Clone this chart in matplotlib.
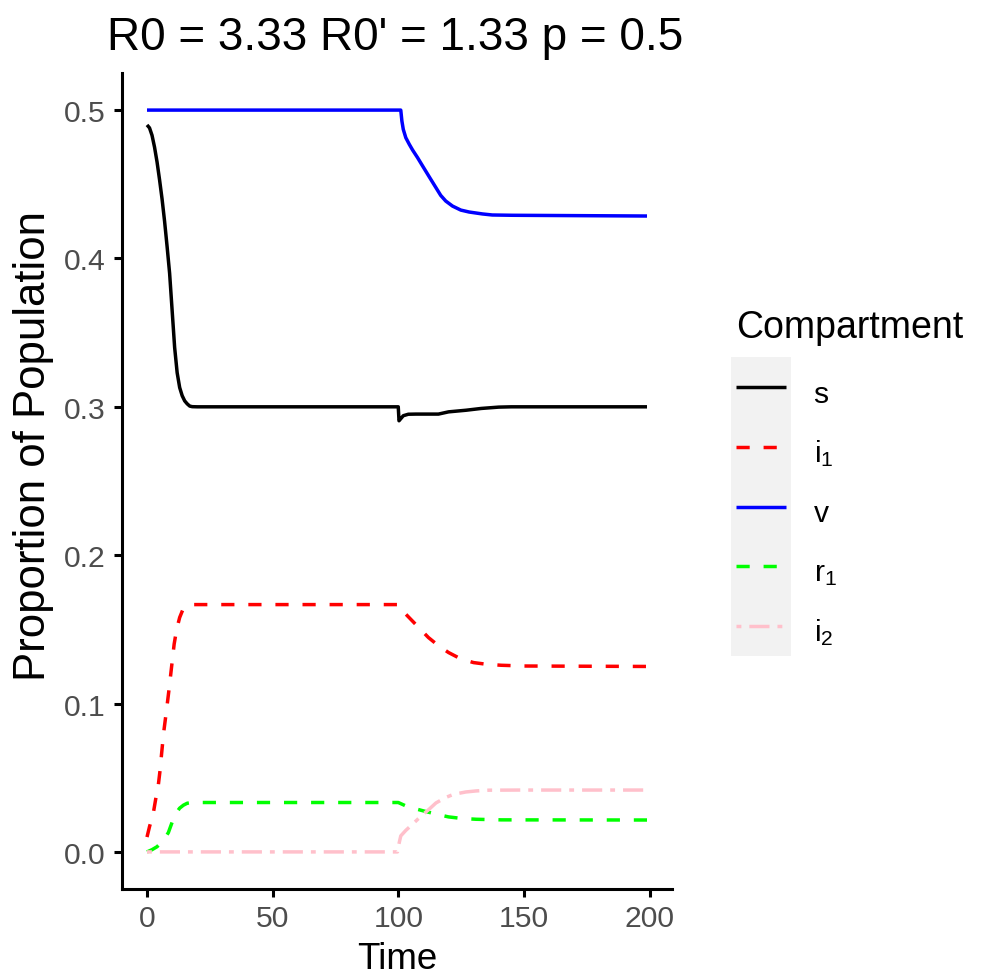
import matplotlib
matplotlib.use("Agg")
import matplotlib.pyplot as plt
from matplotlib.patches import Rectangle

plt.rcParams['font.family'] = ['Liberation Sans', 'DejaVu Sans']
plt.rcParams['mathtext.fontset'] = 'custom'
plt.rcParams['mathtext.rm'] = 'Liberation Sans'

# values
s_t = [0, 1, 2, 3, 4, 5, 6, 7, 8, 9, 10, 11, 12, 13, 14, 15, 16, 17, 18, 20,
       100, 100.3, 101, 102, 104, 107, 116, 120, 127, 133, 140, 145, 199]
s_v = [0.490, 0.488, 0.483, 0.475, 0.465, 0.453, 0.440, 0.425, 0.408, 0.390,
       0.365, 0.340, 0.323, 0.313, 0.3075, 0.304, 0.302, 0.3005, 0.3001,
       0.300, 0.300, 0.2906, 0.292, 0.294, 0.295, 0.2951, 0.2951, 0.2966,
       0.2977, 0.2989, 0.2998, 0.300, 0.300]

i1_t = [0, 1, 2.5, 3.5, 4.5, 5.2, 5.8, 6.6, 7.8, 8.8, 9.8, 10.8, 11.8, 13,
        14.2, 16, 18, 20, 100, 102.4, 106, 112, 116, 120, 125, 130, 135,
        141, 150, 199]
i1_v = [0.010, 0.017, 0.026, 0.036, 0.045, 0.055, 0.066, 0.080, 0.096,
        0.110, 0.125, 0.140, 0.150, 0.158, 0.163, 0.166, 0.1667, 0.1667,
        0.1667, 0.1613, 0.155, 0.1445, 0.139, 0.1344, 0.130, 0.1276, 0.1265,
        0.1258, 0.1253, 0.125]

v_t = [0, 101.0, 101.45, 102.0, 103.0, 104.4, 105.7, 107.7, 109.7, 112.3,
       115.0, 116.9, 118.9, 121.6, 124.9, 128.2, 133.5, 137.4, 145.4, 199]
v_v = [0.5, 0.5, 0.4926, 0.487, 0.4814, 0.4769, 0.4731, 0.4679, 0.4623,
       0.4551, 0.4477, 0.4425, 0.4387, 0.4353, 0.4326, 0.4313, 0.4300,
       0.4293, 0.4291, 0.4286]

r1_t = [0, 2, 4, 5.5, 7, 8.5, 10, 11.5, 13, 14.5, 16, 18, 20, 100, 103,
        107, 111, 115, 120, 125, 131, 141, 199]
r1_v = [0.0, 0.0015, 0.0035, 0.006, 0.009, 0.013, 0.020, 0.026, 0.0295,
        0.0315, 0.0328, 0.0333, 0.0333, 0.0333, 0.031, 0.029, 0.0272,
        0.0255, 0.0236, 0.0226, 0.022, 0.0216, 0.0215]

i2_t = [0, 99.7, 100, 100.4, 101, 103, 105.7, 109, 112.3, 115, 118.9, 122,
        126.9, 131, 136, 149, 199]
i2_v = [0.0, 0.0, 0.003, 0.0063, 0.0108, 0.0145, 0.0187, 0.024, 0.0288,
        0.033, 0.0367, 0.0388, 0.0404, 0.0411, 0.0416, 0.0417, 0.0417]

labels = ['s', r'$\mathregular{i_1}$', 'v', r'$\mathregular{r_1}$',
          r'$\mathregular{i_2}$']
colors = ['black', 'red', 'blue', '#00FF00', 'pink']
dashes = [None, (3.8, 4.0), None, (3.8, 4.0), (1.4, 2.3, 5.8, 2.3)]

fig = plt.figure(figsize=(9.84, 9.78), dpi=100)
ax = fig.add_axes([122 / 984, 1 - 890 / 978, 550 / 984, 816 / 978])

series = [(s_t, s_v), (i1_t, i1_v), (v_t, v_v), (r1_t, r1_v), (i2_t, i2_v)]
for (t, y), lab, c, d in zip(series, labels, colors, dashes):
    line, = ax.plot(t, y, color=c, lw=2.5, label=lab, solid_capstyle='butt')
    if d is not None:
        line.set_dashes(d)
        line.set_dash_capstyle('butt')

ax.set_xlim(-9.95, 208.95)
ax.set_ylim(-0.025, 0.525)
ax.set_xticks([0, 50, 100, 150, 200])
ax.set_yticks([0.0, 0.1, 0.2, 0.3, 0.4, 0.5])
ax.set_yticklabels(['0.0', '0.1', '0.2', '0.3', '0.4', '0.5'])
for side in ['top', 'right']:
    ax.spines[side].set_visible(False)
for side in ['left', 'bottom']:
    ax.spines[side].set_linewidth(2.2)
ax.tick_params(width=2.2, length=6, labelsize=21.7, labelcolor='#4D4D4D')
ax.tick_params(axis='y', pad=6)
ax.tick_params(axis='x', pad=5)

ax.set_xlabel('Time', fontsize=26.5, va='baseline')
ax.xaxis.set_label_coords(0.5, -(969 - 890) / 816)
ax.set_ylabel('Proportion of Population', fontsize=31.5)
ax.yaxis.set_label_coords(-0.123, (890 - 446) / 816)

fig.text(107 / 984, 1 - 50 / 978, "R0 = 3.33 R0' = 1.33 p = 0.5",
         fontsize=33, ha='left', va='baseline')

leg = ax.legend(loc='upper left', bbox_to_anchor=(721 / 984, 1 - 295 / 978),
                bbox_transform=fig.transFigure, frameon=False,
                title='Compartment', title_fontsize=27, fontsize=21.7,
                handlelength=1.67, handleheight=1.6, handletextpad=0.9,
                labelspacing=0.69, borderpad=0, alignment='left')
leg._legend_box.sep = 20

# grey key background like ggplot
fig.canvas.draw()
r = fig.canvas.get_renderer()
ext = [h.get_window_extent(r) for h in leg.legend_handles]
x0 = min(e.x0 for e in ext) - 5
x1 = max(e.x1 for e in ext) + 5
y_top = max((e.y0 + e.y1) / 2 for e in ext) + 30
y_bot = min((e.y0 + e.y1) / 2 for e in ext) - 30
W, H = fig.bbox.width, fig.bbox.height
fig.patches.append(Rectangle((x0 / W, y_bot / H), (x1 - x0) / W,
                             (y_top - y_bot) / H, transform=fig.transFigure,
                             facecolor='#F2F2F2', edgecolor='none', zorder=-1))

fig.savefig('out.png', dpi=100)
